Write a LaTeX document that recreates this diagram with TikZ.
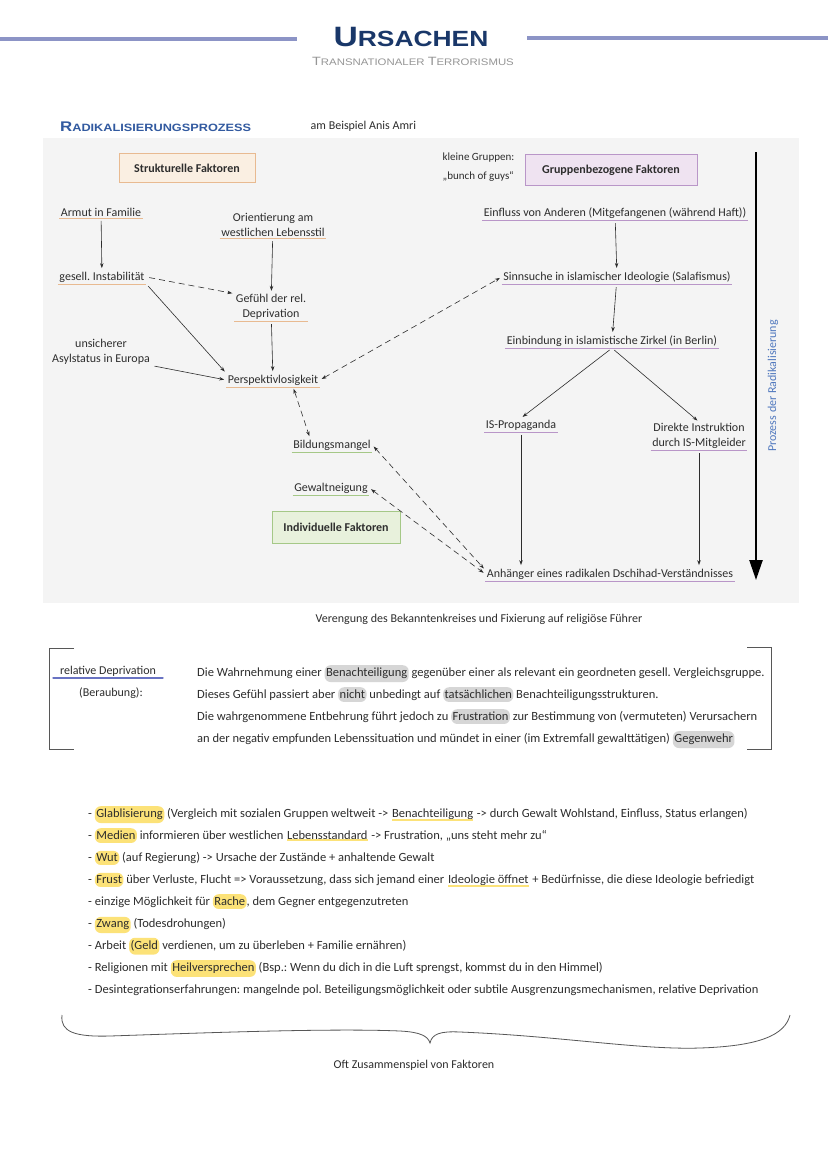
\documentclass[tikz,border=0pt]{standalone}
\usepackage{fontspec}
\setmainfont{Carlito}
\newfontfamily\capsfont[FakeStretch=1.2]{Liberation Sans}
\usetikzlibrary{arrows.meta, positioning, calc}
\definecolor{navy}{RGB}{25,55,105}
\definecolor{headrule}{RGB}{140,148,198}
\definecolor{capgrey}{RGB}{150,150,150}
\definecolor{secblue}{RGB}{50,90,160}
\definecolor{panel}{RGB}{244,244,244}
\definecolor{ink}{RGB}{45,45,45}
\definecolor{peach}{RGB}{250,239,226}
\definecolor{peachline}{RGB}{232,186,145}
\definecolor{lilac}{RGB}{239,227,241}
\definecolor{lilacline}{RGB}{185,150,200}
\definecolor{sage}{RGB}{232,241,220}
\definecolor{sageline}{RGB}{165,200,135}
\definecolor{procblue}{RGB}{80,120,190}
\definecolor{defblue}{RGB}{105,115,195}
\definecolor{hlgrey}{RGB}{214,214,214}
\definecolor{hlyellow}{RGB}{252,226,120}
\newcommand{\dfont}{\fontsize{12}{14.5}\selectfont}
\newcommand{\bodyfont}{\fontsize{12.5}{22}\selectfont}
\newcommand{\greymark}[1]{\tikz[baseline=(gm.base)]\node[fill=hlgrey, rounded corners=6pt, inner xsep=1.5pt, inner ysep=3pt, outer sep=0pt] (gm) {#1};}
\newcommand{\yellowmark}[1]{\tikz[baseline=(ym.base)]\node[fill=hlyellow, rounded corners=6pt, inner xsep=1.5pt, inner ysep=3pt, outer sep=0pt] (ym) {#1};}
\newcommand{\yellowline}[1]{\tikz[baseline=(yl.base)]{\node[inner sep=0pt, outer sep=0pt] (yl) {#1}; \draw[hlyellow, line width=1.8pt] (yl.south west) -- (yl.south east);}}

\begin{document}
\frenchspacing
\begin{tikzpicture}[x=1pt, y=-1pt,
  txt/.style={font=\dfont, text=ink, inner sep=1.5pt, align=center},
  uline/.style={append after command={(\tikzlastnode.south west) edge[draw=#1, line width=0.8pt, -] (\tikzlastnode.south east)}},
  factorbox/.style={draw=#1, line width=0.6pt, font=\bfseries\dfont, text=ink},
  arr/.style={-{Stealth[length=5pt, width=3.5pt]}, ink, line width=0.6pt, shorten <=3pt, shorten >=2pt},
  darr/.style={{Stealth[length=5pt, width=3.5pt]}-{Stealth[length=5pt, width=3.5pt]}, ink, line width=0.6pt, dash pattern=on 6pt off 4pt, shorten <=2pt, shorten >=2pt}]
  \useasboundingbox (0,0) rectangle (828,1171);
  \fill[white] (0,0) rectangle (828,1171);

  % header
  \node[font=\capsfont\bfseries, text=navy, inner sep=0pt] (title) at (411,37)
    {{\fontsize{28}{28}\selectfont U}{\fontsize{22}{22}\selectfont RSACHEN}};
  \node[font=\capsfont, text=capgrey, inner sep=0pt] (subtitle) at (413,61)
    {{\fontsize{12}{12}\selectfont T}{\fontsize{9.5}{9.5}\selectfont RANSNATIONALER }{\fontsize{12}{12}\selectfont T}{\fontsize{9.5}{9.5}\selectfont ERRORISMUS}};
  \coordinate (rl1) at (0,39);
  \coordinate (rl2) at (297,39);
  \coordinate (rr1) at (527,38);
  \coordinate (rr2) at (828,38);
  \draw[headrule, line width=4pt] (rl1) -- (rl2);
  \draw[headrule, line width=4pt] (rr1) -- (rr2);

  \node[font=\capsfont\bfseries, text=secblue, anchor=west, inner sep=0pt] (sechead) at (60,127)
    {{\fontsize{14}{14}\selectfont R}{\fontsize{10.6}{10.6}\selectfont ADIKALISIERUNGSPROZESS}};
  \node[txt, anchor=west] (example) at (309,126) {am Beispiel Anis Amri};

  % panel
  \fill[panel] (43,138) rectangle (799,603);

  % factor boxes
  \node[factorbox=peachline, fill=peach, minimum width=136pt, minimum height=29pt] (struct) at (187,168) {Strukturelle Faktoren};
  \node[factorbox=lilacline, fill=lilac, minimum width=172pt, minimum height=31pt] (group) at (611,170) {Gruppenbezogene Faktoren};
  \node[factorbox=sageline, fill=sage, minimum width=128pt, minimum height=32pt] (indiv) at (336,527) {Individuelle Faktoren};
  \node[txt, align=left, anchor=west, font=\fontsize{11}{19}\selectfont] (guys) at (441,167) {kleine Gruppen:\\„bunch of guys“};

  % structural side
  \node[txt, uline=peachline] (armut) at (101,212) {Armut in Familie};
  \node[txt, uline=peachline] (orient) at (273,225) {Orientierung am\\westlichen Lebensstil};
  \node[txt, uline=peachline] (gesell) at (102,277) {gesell. Instabilität};
  \node[txt, uline=peachline] (gefuehl) at (271,307) {Gefühl der rel.\\Deprivation};
  \node[txt] (asyl) at (101,352) {unsicherer\\Asylstatus in Europa};
  \node[txt, uline=peachline] (persp) at (273,380) {Perspektivlosigkeit};

  % individual side
  \node[txt, uline=sageline] (bildung) at (332,445) {Bildungsmangel};
  \node[txt, uline=sageline] (gewalt) at (331,488) {Gewaltneigung};

  % group side
  \node[txt, uline=lilacline] (einfluss) at (615,213) {Einfluss von Anderen (Mitgefangenen (während Haft))};
  \node[txt, uline=lilacline] (sinn) at (617,277) {Sinnsuche in islamischer Ideologie (Salafismus)};
  \node[txt, uline=lilacline] (einb) at (612,341) {Einbindung in islamistische Zirkel (in Berlin)};
  \node[txt, uline=lilacline] (isprop) at (521,425) {IS-Propaganda};
  \node[txt, uline=lilacline] (direkt) at (699,436) {Direkte Instruktion\\durch IS-Mitgleider};
  \node[txt, uline=lilacline] (anh) at (610,574) {Anhänger eines radikalen Dschihad-Verständnisses};

  % connectors
  \draw[arr] (armut) -- (gesell);
  \draw[arr] (orient) -- (gefuehl);
  \draw[arr] (gefuehl) -- (persp);
  \draw[arr] (gesell.south east) -- (persp.north west);
  \draw[arr] (asyl.-15) -- (persp.west);
  \draw[arr, dash pattern=on 6pt off 4pt] (gesell.east) -- (gefuehl.160);
  \draw[darr] (persp.east) -- (sinn.west);
  \draw[darr] ([xshift=20pt]persp.south) -- ([xshift=-22pt]bildung.north);
  \draw[darr] (bildung.east) -- ([yshift=4pt]anh.west);
  \draw[darr] (gewalt.east) -- (anh.west);
  \draw[arr] (einfluss) -- (sinn);
  \draw[arr] (sinn) -- (einb);
  \draw[arr] (einb.south) -- (isprop.north);
  \draw[arr] (einb.south) -- (direkt.north);
  \draw[arr] (isprop.south) -- (isprop.south |- anh.north);
  \draw[arr] (direkt.south) -- (direkt.south |- anh.north);

  % process arrow
  \coordinate (ptop) at (756,152);
  \coordinate (pbot) at (756,580);
  \draw[line width=2.4pt, -{Triangle[length=20pt, width=13pt]}] (ptop) -- (pbot);
  \node[txt, rotate=90, text=procblue] (plabel) at (773,386) {Prozess der Radikalisierung};

  \node[txt] (narrow) at (479,619) {Verengung des Bekanntenkreises und Fixierung auf religiöse Führer};

  % definition
  \draw[ink!80, line width=0.8pt] (74,648) -- (49,648) -- (49,749) -- (74,749);
  \draw[ink!80, line width=0.8pt] (747,647) -- (771,647) -- (771,749) -- (747,749);
  \node[txt] (reldep) at (108,671) {relative Deprivation};
  \node[txt] (beraub) at (111,693) {(Beraubung):};
  \draw[defblue, line width=2.5pt, line cap=round] ([xshift=-5pt]reldep.south west) -- ([xshift=5pt]reldep.south east);
  \node[font=\bodyfont, text=ink, align=left, anchor=north west, inner sep=0pt] (deftext) at (197,665)
    {Die Wahrnehmung einer \greymark{Benachteiligung} gegenüber einer als relevant ein geordneten gesell. Vergleichsgruppe.\\
     Dieses Gefühl passiert aber \greymark{nicht} unbedingt auf \greymark{tatsächlichen} Benachteiligungsstrukturen.\\
     Die wahrgenommene Entbehrung führt jedoch zu \greymark{Frustration} zur Bestimmung von (vermuteten) Verursachern\\
     an der negativ empfunden Lebenssituation und mündet in einer (im Extremfall gewalttätigen) \greymark{Gegenwehr}};

  % list of causes
  \node[font=\bodyfont, text=ink, align=left, anchor=north west, inner sep=0pt] (causes) at (88,806)
    {- \yellowmark{Glablisierung} (Vergleich mit sozialen Gruppen weltweit -> \yellowline{Benachteiligung} -> durch Gewalt Wohlstand, Einfluss, Status erlangen)\\
     - \yellowmark{Medien} informieren über westlichen \yellowline{Lebensstandard} -> Frustration, „uns steht mehr zu“\\
     - \yellowmark{Wut} (auf Regierung) -> Ursache der Zustände + anhaltende Gewalt\\
     - \yellowmark{Frust} über Verluste, Flucht => Voraussetzung, dass sich jemand einer \yellowline{Ideologie öffnet} + Bedürfnisse, die diese Ideologie befriedigt\\
     - einzige Möglichkeit für \yellowmark{Rache}, dem Gegner entgegenzutreten\\
     - \yellowmark{Zwang} (Todesdrohungen)\\
     - Arbeit \yellowmark{(Geld} verdienen, um zu überleben + Familie ernähren)\\
     - Religionen mit \yellowmark{Heilversprechen} (Bsp.: Wenn du dich in die Luft sprengst, kommst du in den Himmel)\\
     - Desintegrationserfahrungen: mangelnde pol. Beteiligungsmöglichkeit oder subtile Ausgrenzungsmechanismen, relative Deprivation};

  % brace
  \draw[ink!80, line width=0.8pt] (62,1015) .. controls (60,1032) and (75,1037) .. (110,1036)
    .. controls (200,1033) and (330,1028) .. (400,1031)
    .. controls (420,1032) and (428,1036) .. (430,1043)
    .. controls (432,1034) and (440,1031) .. (460,1032)
    .. controls (560,1036) and (640,1050) .. (700,1048)
    .. controls (760,1046) and (785,1035) .. (790,1015);
  \node[txt] (together) at (414,1065) {Oft Zusammenspiel von Faktoren};
\end{tikzpicture}
\end{document}
